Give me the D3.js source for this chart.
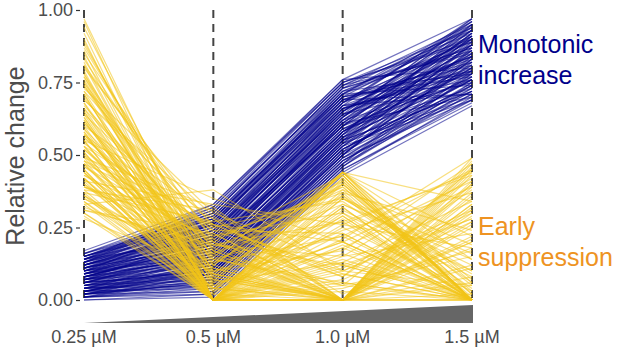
<!DOCTYPE html>
<html><head><meta charset="utf-8">
<script src="https://cdn.jsdelivr.net/npm/d3@7"></script>
<style>body{margin:0;background:#fff}svg{display:block;font-family:"Liberation Sans",Arial,sans-serif}</style>
</head><body><svg id="c" width="624" height="349"></svg>
<script>
const concentrations = ["0.25 µM","0.5 µM","1.0 µM","1.5 µM"];
const yTicks = [0, 0.25, 0.5, 0.75, 1];
const groupLabels = [["Monotonic","increase"],["Early","suppression"]];
// each row: values at 0.25, 0.5, 1.0, 1.5 µM
const monotonicIncrease = [
[.02,.03,.45,.68],[.05,.08,.50,.72],[.10,.20,.62,.85],[.15,.30,.74,.95],[.03,.12,.55,.80],
[.08,.15,.58,.78],[.12,.25,.68,.90],[.01,.02,.44,.70],[.06,.10,.52,.76],[.13,.28,.70,.93],
[.04,.06,.48,.74],[.09,.18,.60,.82],[.11,.22,.66,.88],[.17,.33,.76,.80],[.02,.05,.47,.71],
[.07,.14,.56,.84],[.14,.26,.71,.96],[.05,.11,.53,.69],[.10,.17,.61,.92],[.03,.09,.50,.87],
[.12,.24,.64,.75],[.06,.13,.57,.79],[.08,.19,.63,.91],[.15,.31,.73,.86],[.01,.04,.46,.73],
[.09,.21,.65,.94],[.04,.07,.49,.77],[.11,.27,.69,.83],[.13,.23,.67,.97],[.07,.16,.59,.81],
[.02,.08,.51,.89],[.14,.29,.72,.78],[.05,.12,.54,.70],[.10,.18,.62,.93],[.03,.10,.55,.85],
[.16,.32,.75,.90],[.08,.20,.60,.76],[.06,.15,.58,.88],[.12,.26,.70,.82],[.00,.01,.43,.67],
[.09,.14,.57,.95],[.04,.09,.52,.74],[.11,.24,.66,.79],[.13,.30,.74,.92],[.07,.17,.61,.87],
[.02,.06,.48,.72],[.15,.27,.68,.84],[.10,.22,.63,.90],[.05,.13,.56,.77],[.08,.19,.64,.96],
[.03,.11,.53,.80],[.12,.25,.67,.71],[.06,.10,.50,.83],[.14,.28,.71,.89],[.09,.16,.59,.73],
[.01,.03,.46,.78],[.11,.21,.65,.91],[.04,.12,.54,.86],[.07,.18,.62,.75],[.13,.27,.73,.94],
[.10,.23,.69,.81],[.02,.07,.49,.69],[.08,.15,.57,.92],[.05,.14,.58,.88],[.15,.29,.70,.77],
[.12,.20,.60,.85],[.03,.08,.51,.73],[.06,.17,.63,.97],[.09,.22,.66,.80],[.14,.31,.75,.93],
[.11,.19,.61,.70],[.04,.05,.47,.82],[.07,.13,.55,.90],[.10,.26,.72,.87],[.01,.09,.52,.76],
[.13,.24,.68,.95],[.05,.16,.59,.79],[.08,.21,.64,.84],[.16,.28,.71,.74],[.02,.10,.54,.91],
[.03,.04,.46,.75],[.09,.17,.58,.83],[.12,.22,.65,.93],[.06,.09,.51,.78],[.14,.25,.69,.88],
[.02,.11,.55,.72],[.10,.20,.63,.95],[.07,.12,.53,.81],[.15,.28,.72,.91],[.04,.14,.57,.86],
[.11,.23,.67,.76],[.01,.05,.48,.71],[.08,.18,.61,.89],[.13,.26,.70,.79],[.05,.07,.50,.84],
[.09,.24,.68,.96],[.03,.13,.56,.77],[.12,.29,.73,.87],[.06,.16,.60,.92],[.00,.02,.45,.69],
[.14,.21,.64,.82],[.07,.10,.52,.74],[.10,.27,.71,.94],[.04,.15,.58,.80],[.16,.30,.74,.85],
[.02,.06,.49,.75],[.11,.19,.62,.90],[.08,.13,.55,.72],[.13,.32,.76,.97],[.05,.09,.53,.88],
[.09,.20,.66,.78],[.01,.07,.50,.83],[.12,.23,.65,.86],[.06,.18,.60,.93],[.15,.26,.69,.71],
[.03,.05,.47,.79],[.10,.15,.56,.91],[.07,.22,.67,.84],[.14,.33,.75,.89],[.04,.11,.54,.76]
];
const earlySuppression = [
[.97,.05,.20,.00],[.92,.00,.35,.10],[.88,.12,.00,.40],[.85,.20,.05,.00],[.82,.00,.44,.02],
[.80,.25,.10,.30],[.78,.08,.00,.49],[.76,.00,.28,.00],[.75,.15,.40,.05],[.73,.30,.12,.00],
[.72,.02,.00,.25],[.70,.10,.22,.45],[.68,.00,.05,.15],[.67,.18,.38,.00],[.65,.05,.00,.35],
[.64,.22,.30,.08],[.62,.00,.15,.42],[.61,.12,.43,.00],[.60,.28,.02,.20],[.58,.00,.25,.03],
[.57,.08,.00,.30],[.56,.16,.33,.12],[.55,.00,.42,.00],[.54,.24,.08,.38],[.53,.03,.18,.00],
[.52,.11,.00,.46],[.51,.00,.36,.06],[.50,.19,.12,.28],[.49,.06,.44,.00],[.48,.00,.00,.22],
[.47,.26,.20,.00],[.46,.14,.05,.40],[.45,.00,.31,.10],[.44,.09,.00,.33],[.43,.21,.39,.02],
[.42,.00,.14,.00],[.41,.33,.26,.18],[.40,.04,.00,.44],[.39,.17,.41,.00],[.38,.00,.07,.27],
[.37,.27,.34,.04],[.36,.07,.00,.36],[.35,.13,.22,.00],[.34,.00,.44,.14],[.33,.38,.10,.05],
[.31,.23,.00,.32],[.30,.02,.29,.00],[.28,.10,.17,.47],[.90,.00,.09,.00],[.83,.17,.00,.20],
[.79,.00,.32,.00],[.74,.06,.13,.34],[.69,.29,.00,.00],[.63,.00,.37,.24],[.59,.14,.06,.00],
[.55,.35,.20,.41],[.50,.00,.00,.08],[.46,.20,.43,.00],[.42,.05,.24,.37],[.38,.31,.00,.12],
[.86,.00,.16,.00],[.77,.10,.00,.29],[.71,.00,.40,.00],[.66,.19,.27,.43],[.60,.00,.03,.00],
[.53,.25,.35,.16],[.47,.00,.00,.39],[.40,.12,.44,.06],[.36,.00,.19,.00],[.32,.16,.00,.48],
[.94,.09,.00,.18],[.81,.00,.23,.00],[.72,.23,.00,.05],[.64,.00,.11,.31],[.57,.07,.42,.00],
[.48,.18,.00,.26],[.44,.00,.30,.00],[.39,.26,.08,.45],[.34,.04,.00,.02],[.30,.00,.38,.19],
[.96,.00,.12,.00],[.89,.07,.00,.33],[.84,.00,.41,.00],[.81,.21,.00,.11],[.77,.00,.26,.44],
[.74,.13,.36,.00],[.71,.00,.00,.21],[.69,.26,.09,.00],[.66,.03,.44,.07],[.63,.00,.18,.39],
[.61,.17,.00,.00],[.59,.00,.33,.14],[.57,.24,.23,.00],[.55,.00,.00,.45],[.53,.08,.40,.03],
[.51,.00,.13,.00],[.49,.32,.00,.27],[.47,.04,.29,.00],[.45,.00,.44,.34],[.43,.15,.00,.00],
[.41,.00,.21,.49],[.39,.22,.37,.00],[.37,.00,.04,.17],[.35,.09,.00,.41],[.33,.00,.32,.00],
[.31,.19,.15,.23],[.29,.00,.00,.06],[.87,.14,.27,.00],[.78,.00,.00,.37],[.68,.09,.43,.00],
[.58,.00,.10,.28],[.48,.28,.00,.00],[.42,.00,.35,.09],[.36,.11,.00,.43],[.62,.00,.06,.00],
[.52,.16,.39,.01],[.44,.00,.00,.31],[.75,.04,.20,.00],[.65,.00,.44,.22],[.56,.20,.00,.47]
];

const svg = d3.select("#c");
const x = d3.scalePoint().domain(concentrations).range([84, 472]);
const y = d3.scaleLinear().domain([0, 1]).range([300, 10]);
const gray = "#4d4d4d";

// y axis
const yAxis = svg.append("g").attr("transform", "translate(80,0)")
  .call(d3.axisLeft(y).tickValues(yTicks).tickFormat(d3.format(".2f")).tickSize(4).tickPadding(3));
yAxis.select(".domain").remove();
yAxis.selectAll("line").attr("stroke", "#333").attr("stroke-width", 1.2);
yAxis.selectAll("text").attr("fill", gray).attr("font-size", 18).attr("font-family", "Liberation Sans, Arial, sans-serif");

svg.append("text").attr("transform", "translate(24,156) rotate(-90)")
  .attr("text-anchor", "middle").attr("fill", gray).attr("font-size", 25).text("Relative change");

// dashed guides
svg.append("g").selectAll("line").data(concentrations).join("line")
  .attr("x1", d => x(d)).attr("x2", d => x(d)).attr("y1", y(1)).attr("y2", y(0))
  .attr("stroke", "#444").attr("stroke-width", 2).attr("stroke-dasharray", "8,6");

const toPts = row => row.map((v, i) => [x(concentrations[i]), y(v)]);
const lineBlue = d3.line();
const lineGold = d3.line();

svg.append("g").selectAll("path").data(monotonicIncrease).join("path")
  .attr("d", d => lineBlue(toPts(d))).attr("fill", "none")
  .attr("stroke", "#00008B").attr("stroke-opacity", 0.55).attr("stroke-width", 1.2);
svg.append("g").selectAll("path").data(earlySuppression).join("path")
  .attr("d", d => lineGold(toPts(d))).attr("fill", "none")
  .attr("stroke", "#F2C417").attr("stroke-opacity", 0.55).attr("stroke-width", 1.2);

// dose wedge
const x0 = x(concentrations[0]), x1 = x(concentrations[concentrations.length - 1]);
svg.append("path").attr("d", `M${x0},323L${x1 + 1},305L${x1 + 1},323Z`).attr("fill", "#666");

// x labels
svg.append("g").selectAll("text").data(concentrations).join("text")
  .attr("x", d => x(d)).attr("y", 343).attr("text-anchor", "middle")
  .attr("fill", gray).attr("font-size", 18).text(d => d);

// group labels
const labelColors = ["#00008B", "#EE9322"];
const labelBaselines = [[53, 84], [235, 266]];
groupLabels.forEach((lines, gi) => {
  lines.forEach((t, li) => {
    svg.append("text").attr("x", 478).attr("y", labelBaselines[gi][li])
      .attr("fill", labelColors[gi]).attr("font-size", 25).text(t);
  });
});
</script></body></html>
